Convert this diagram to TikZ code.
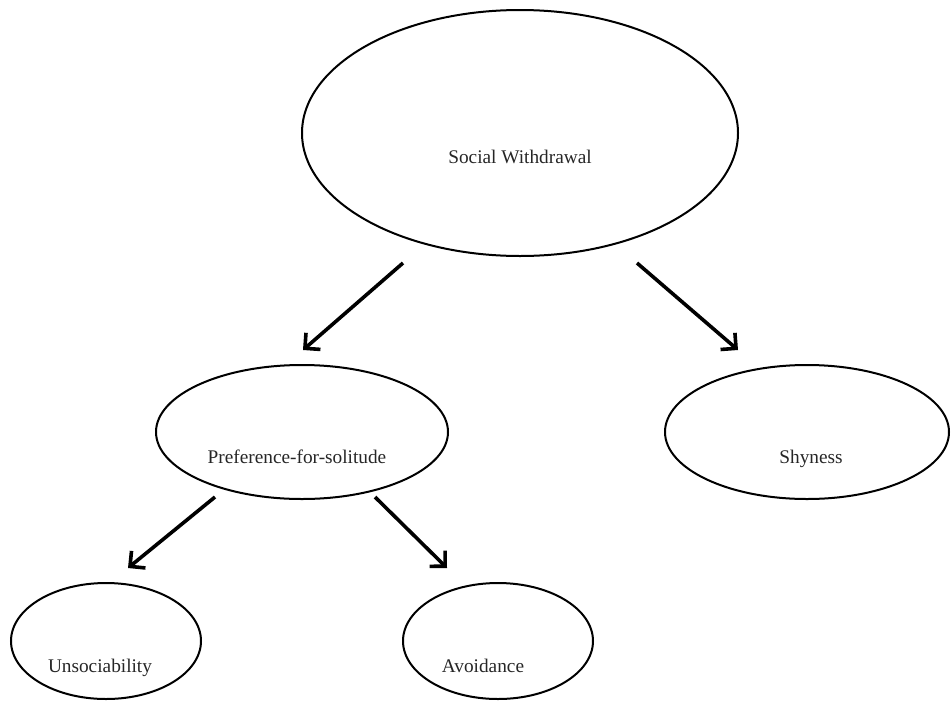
\documentclass[tikz,border=0pt]{standalone}
\usepackage{fontspec}
\setmainfont{Liberation Serif}
\usetikzlibrary{shapes.geometric,arrows.meta}
\begin{document}
\begin{tikzpicture}[x=1pt,y=-1pt,
  oval/.style={ellipse,draw=black,line width=2pt,inner sep=0pt},
  lbl/.style={anchor=base,inner sep=0pt,font=\fontsize{19.3}{23}\selectfont,text=black!85},
  arr/.style={line width=3.6pt,-{Straight Barb[length=11pt,width=22pt,line width=3.6pt]}}]
\useasboundingbox (0,0) rectangle (951,702);
\node[oval,minimum width=436pt,minimum height=246pt] (sw) at (520,133) {};
\node[oval,minimum width=292pt,minimum height=134pt] (pref) at (302,432) {};
\node[oval,minimum width=284pt,minimum height=134pt] (shy) at (807,432) {};
\node[oval,minimum width=190pt,minimum height=116pt] (uns) at (106,641) {};
\node[oval,minimum width=190pt,minimum height=116pt] (avo) at (498,641) {};
\node[lbl] (swt) at (520,163) {Social Withdrawal};
\node[lbl] (preft) at (297,463) {Preference-for-solitude};
\node[lbl] (shyt) at (811,463) {Shyness};
\node[lbl] (unst) at (100,672) {Unsociability};
\node[lbl] (avot) at (483,672) {Avoidance};
\coordinate (a1s) at (403,263);
\coordinate (a1e) at (303,350);
\coordinate (a2s) at (637,263);
\coordinate (a2e) at (738,350);
\coordinate (a3s) at (215,497);
\coordinate (a3e) at (128,568);
\coordinate (a4s) at (375,497);
\coordinate (a4e) at (447,568);
\draw[arr] (a1s) -- (a1e);
\draw[arr] (a2s) -- (a2e);
\draw[arr] (a3s) -- (a3e);
\draw[arr] (a4s) -- (a4e);
\end{tikzpicture}
\end{document}
